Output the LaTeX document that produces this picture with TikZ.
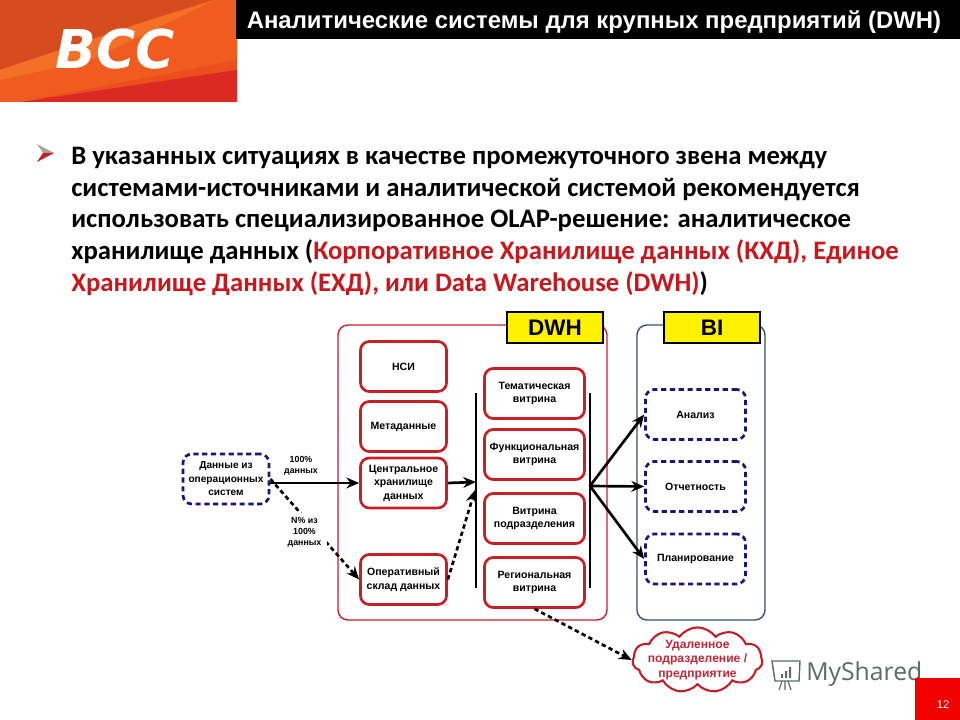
\documentclass[tikz,border=0pt]{standalone}
\usepackage{fontspec}
\setmainfont{Carlito}
\newfontfamily\diagfont{Liberation Sans}
\newfontfamily\markfont{Open Sans}
\newfontfamily\logofont{DejaVu Sans}
\usetikzlibrary{arrows.meta,shapes.symbols}
\definecolor{boxred}{RGB}{196,32,40}
\definecolor{textred}{RGB}{200,24,30}
\definecolor{cloudred}{RGB}{190,40,56}
\definecolor{navyblue}{RGB}{22,22,125}
\definecolor{slateframe}{RGB}{52,84,120}
\definecolor{labelyellow}{RGB}{255,242,0}
\definecolor{markgray}{RGB}{95,105,105}
\definecolor{logobase}{RGB}{236,78,30}
\definecolor{logodark}{RGB}{214,76,30}
\definecolor{logolight}{RGB}{244,112,38}
\definecolor{logomid}{RGB}{240,92,32}
\definecolor{logored}{RGB}{218,42,34}
\tikzset{
	redbox/.style={draw=boxred, fill=white, line width=1.9pt, rounded corners=0.22cm, align=center, minimum width=2.15cm, minimum height=1.25cm, inner sep=0pt, font=\diagfont\fontsize{7.5}{9.6}\selectfont\bfseries},
	vitrina/.style={redbox, minimum width=2.5cm},
	bluebox/.style={redbox, draw=navyblue, dash pattern=on 1.3mm off 0.9mm, minimum width=2.5cm},
	framebox/.style={draw=boxred, line width=1pt, rounded corners=0.25cm},
	tagbox/.style={draw=black, fill=labelyellow, line width=1.4pt, minimum width=2.4cm, minimum height=0.78cm, inner sep=0pt, font=\diagfont\fontsize{16}{18}\selectfont\bfseries},
	flowlabel/.style={fill=white, align=center, inner sep=0pt, font=\diagfont\fontsize{6.3}{8}\selectfont\bfseries},
	solidarrow/.style={line width=1.9pt, -{Stealth[length=0.32cm,width=0.27cm]}},
	dasharrow/.style={solidarrow, dash pattern=on 1.1mm off 0.8mm},
}
\begin{document}
\begin{tikzpicture}[x=0.025cm,y=-0.025cm]
	\useasboundingbox (0,0) rectangle (960,720);
	\fill[white] (0,0) rectangle (960,720);

	% logo
	\fill[logobase] (0,0) rectangle (237,102);
	\fill[logodark] (0,0) -- (210,0) -- (0,70) -- cycle;
	\fill[logomid] (0,70) -- (215,0) -- (237,0) -- (237,60) -- (20,102) -- (0,102) -- cycle;
	\fill[logolight] (0,70) -- (150,20) -- (215,0) -- (90,60) -- (0,80) -- cycle;
	\fill[logored] (20,102) -- (237,70) -- (237,102) -- cycle;
	\node[white, inner sep=0pt, font=\logofont\fontsize{38}{38}\selectfont\bfseries\itshape] (logo) at (115,49) {BCC};

	% header
	\fill[black] (236,0) rectangle (960,39);
	\node[white, inner sep=0pt, font=\diagfont\fontsize{17}{20}\selectfont\bfseries] (title) at (594,22) {Аналитические системы для крупных предприятий (DWH)};

	% bullet and body text
	\fill[gray!70!white] (37,144) -- (54,153) -- (43,153) -- cycle;
	\fill[boxred] (37,162) -- (54,153) -- (43,153) -- cycle;
	\node[anchor=north west, inner sep=0pt, align=left, font=\fontsize{19}{22.5}\selectfont\bfseries] (body) at (71,147) {В указанных ситуациях в качестве промежуточного звена между\\
		системами-источниками и аналитической системой рекомендуется\\
		использовать специализированное OLAP-решение: аналитическое\\
		хранилище данных (\textcolor{textred}{Корпоративное Хранилище данных (КХД), Единое}\\
		\textcolor{textred}{Хранилище Данных (ЕХД), или Data Warehouse (DWH)})};

	% frames
	\draw[framebox] (338,325) rectangle (607,620);
	\draw[framebox, draw=slateframe] (637,325) rectangle (765,620);
	\node[tagbox] (dwh) at (555,327.5) {DWH};
	\node[tagbox] (bi) at (712,327.5) {BI};

	% boxes
	\node[bluebox, minimum width=2.15cm, font=\diagfont\fontsize{7.2}{9.6}\selectfont\bfseries] (source) at (226,479) {Данные из\\операционных\\систем};
	\node[redbox] (nsi) at (403.5,366.5) {НСИ};
	\node[redbox] (meta) at (403.5,426.5) {Метаданные};
	\node[redbox] (central) at (403.5,483) {Центральное\\хранилище\\данных};
	\node[redbox] (ods) at (403.5,579.5) {Оперативный\\склад данных};
	\node[vitrina] (topic) at (534.5,393.5) {Тематическая\\витрина};
	\node[vitrina] (func) at (534.5,454.5) {Функциональная\\витрина};
	\node[vitrina] (dept) at (534.5,518.5) {Витрина\\подразделения};
	\node[vitrina] (region) at (534.5,582.5) {Региональная\\витрина};
	\node[bluebox] (analysis) at (695.5,414.5) {Анализ};
	\node[bluebox] (report) at (695.5,486.5) {Отчетность};
	\node[bluebox] (plan) at (695.5,559) {Планирование};
	\node[cloud, cloud puffs=11, cloud puff arc=110, cloud ignores aspect, draw=boxred, fill=white, line width=1.5pt, minimum width=3.25cm, minimum height=1.63cm, inner sep=0pt] (remote) at (697.5,660) {};
	\node[align=center, inner sep=0pt, text=cloudred, font=\diagfont\fontsize{8.6}{10.4}\selectfont\bfseries] (remotetext) at (remote.center) {Удаленное\\подразделение /\\предприятие};

	% bars
	\draw[line width=1.6pt] (476,393) -- (476,588);
	\draw[line width=1.6pt] (590,393) -- (590,588);
	\coordinate (barleft) at (476,482);
	\coordinate (barlow) at (475,490);
	\coordinate (barright) at (590,486);

	% connectors
	\draw[solidarrow] (source.east |- central.west) -- (central.west);
	\draw[solidarrow] (central.east) -- (barleft);
	\draw[dasharrow] (source.east) -- (ods.west);
	\draw[dasharrow] (ods.east) -- (barlow);
	\draw[solidarrow] (barright) -- (analysis.west);
	\draw[solidarrow] (barright) -- (report.west);
	\draw[solidarrow] (barright) -- (plan.west);
	\draw[dasharrow] (region.south) -- (remote.west);

	% labels on the connectors
	\node[flowlabel] (full) at (301,466) {100\%\\данных};
	\node[flowlabel, minimum width=1.1cm, minimum height=0.97cm] (part) at (304.5,532.5) {N\% из\\100\%\\данных};

	% watermark and page number
	\draw[markgray, line width=1pt] (772,661) -- (800,661) -- (799,681) -- (775,681) -- cycle;
	\fill[markgray] (781,674) rectangle (783,678) (785,671) rectangle (787,678) (789,667) rectangle (791,678);
	\draw[markgray, line width=0.8pt] (782,681) -- (779,690) (788,681) -- (791,690) (785,681) -- (785,690);
	\node[anchor=west, inner sep=0pt, text=markgray, font=\markfont\fontsize{17.6}{20}\selectfont] (mark) at (806,674) {MyShared};
	\fill[red!95!black] (915,678) rectangle (960,720);
	\node[white, inner sep=0pt, font=\diagfont\fontsize{8}{10}\selectfont] (page) at (943,705) {12};
\end{tikzpicture}
\end{document}
